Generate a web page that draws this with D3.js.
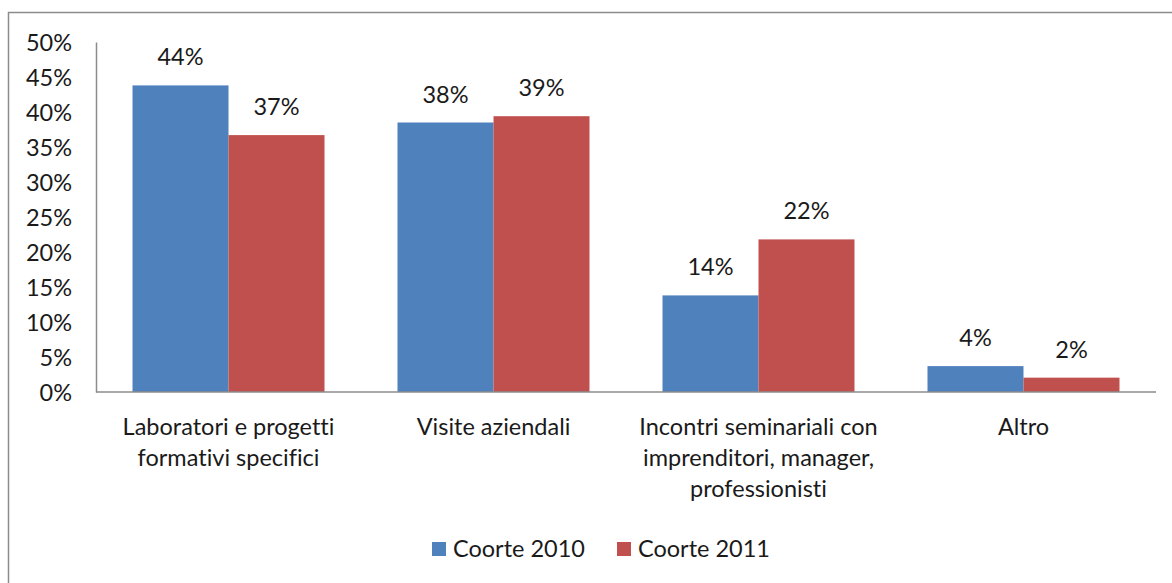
<!DOCTYPE html>
<html>
<head>
<meta charset="utf-8">
<script src="https://cdn.jsdelivr.net/npm/d3@7"></script>
<style>
  body { margin: 0; background: #fff; }
  text { font-family: Lato, "Liberation Sans", sans-serif; fill: #1a1a1a; font-variant-ligatures: none; }
</style>
</head>
<body>
<div id="graf"></div>
<script>
// Dati
const categorie = [
    ['Laboratori e progetti', 'formativi specifici'],
    ['Visite aziendali'],
    ['Incontri seminariali con', 'imprenditori, manager,', 'professionisti'],
    ['Altro']
]
const serie = ['Coorte 2010', 'Coorte 2011']
const coorte2010 = [43.8, 38.5, 13.8, 3.7]
const coorte2011 = [36.7, 39.4, 21.8, 2.05]
const etichette2010 = ['44%', '38%', '14%', '4%']
const etichette2011 = ['37%', '39%', '22%', '2%']
const ticks = [0, 5, 10, 15, 20, 25, 30, 35, 40, 45, 50]

const colori = ['#4F81BD', '#C0504D']
const fs = '23.5px'

// Dimensioni
const anchoTotal = 1172
const altoTotal = 583
const margins = { top: 42, right: 16, bottom: 191, left: 96 }
const ancho = anchoTotal - margins.left - margins.right
const alto = altoTotal - margins.top - margins.bottom

const svg = d3.select('#graf').append('svg')
    .attr('width', anchoTotal)
    .attr('height', altoTotal)

// cornice
svg.append('path')
    .attr('d', `M8.5,${altoTotal} V12.5 H${anchoTotal}`)
    .attr('fill', 'none')
    .attr('stroke', '#8c8c8c')
    .attr('stroke-width', 1.5)

const g = svg.append('g')
    .attr('transform', `translate(${margins.left}, ${margins.top})`)

const idx = d3.range(categorie.length)

// Scale
const x = d3.scaleBand()
    .domain(idx)
    .range([0, ancho])
    .paddingInner(0.2755)
    .paddingOuter(0.1378)

const x1 = d3.scaleBand()
    .domain(serie)
    .range([0, x.bandwidth()])

const y = d3.scaleLinear()
    .domain([0, 50])
    .range([alto, 0])

const dati = idx.map(i => ({
    i,
    valori: [
        { s: serie[0], v: coorte2010[i], et: etichette2010[i] },
        { s: serie[1], v: coorte2011[i], et: etichette2011[i] }
    ]
}))

// Barre
const gruppi = g.selectAll('g.gruppo')
    .data(dati)
    .join('g')
    .attr('class', 'gruppo')
    .attr('transform', d => `translate(${x(d.i)}, 0)`)

gruppi.selectAll('rect')
    .data(d => d.valori)
    .join('rect')
    .attr('x', d => x1(d.s))
    .attr('y', d => y(d.v))
    .attr('width', x1.bandwidth())
    .attr('height', d => alto - y(d.v))
    .attr('fill', (d, j) => colori[j])

gruppi.selectAll('text')
    .data(d => d.valori)
    .join('text')
    .attr('x', d => x1(d.s) + x1.bandwidth() / 2)
    .attr('y', d => y(d.v) - 20)
    .attr('text-anchor', 'middle')
    .style('font-size', fs)
    .text(d => d.et)

// Assi
const yAxis = d3.axisLeft(y)
    .tickValues(ticks)
    .tickSize(0)
    .tickPadding(24)
    .tickFormat(d => d + '%')

const yAxisGroup = g.append('g').call(yAxis)
yAxisGroup.select('.domain').attr('stroke', '#8c8c8c').attr('stroke-width', 1.5)
yAxisGroup.selectAll('text')
    .style('font-size', fs)
    .attr('fill', '#1a1a1a')
    .attr('dy', '0.36em')

g.append('line')
    .attr('x1', 0)
    .attr('x2', ancho)
    .attr('y1', y(0))
    .attr('y2', y(0))
    .attr('stroke', '#8c8c8c')
    .attr('stroke-width', 1.5)

// Etichette categorie
const etCat = g.append('g')
    .selectAll('text')
    .data(dati)
    .join('text')
    .attr('text-anchor', 'middle')
    .attr('transform', d => `translate(${x(d.i) + x.bandwidth() / 2}, ${alto + 43})`)
    .style('font-size', fs)

etCat.selectAll('tspan')
    .data(d => categorie[d.i])
    .join('tspan')
    .attr('x', 0)
    .attr('y', (d, k) => k * 31)
    .text(d => d)

// Legenda
const legenda = svg.append('g')
    .attr('transform', 'translate(432, 542)')

const voci = legenda.selectAll('g')
    .data(serie)
    .join('g')
    .attr('transform', (d, j) => `translate(${j * 185}, 0)`)

voci.append('rect')
    .attr('width', 14)
    .attr('height', 14)
    .attr('fill', (d, j) => colori[j])

voci.append('text')
    .attr('x', 21)
    .attr('y', 15)
    .style('font-size', fs)
    .text(d => d)
</script>
</body>
</html>
